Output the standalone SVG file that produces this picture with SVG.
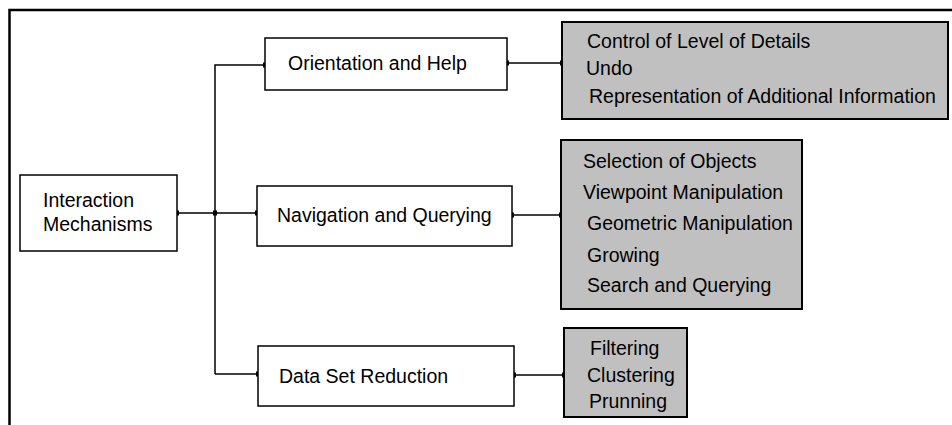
<svg xmlns="http://www.w3.org/2000/svg" width="952" height="425" viewBox="0 0 952 425">
<style>
text{font-family:"Liberation Sans",Arial,sans-serif;font-size:19.5px;fill:#000}
.box{fill:#fff;stroke:#000;stroke-width:1.5}
.gbox{fill:#c0c0c0;stroke:#000;stroke-width:2}
.ln{fill:none;stroke:#000;stroke-width:1.5}
.frame{fill:none;stroke:#000;stroke-width:2.5}
</style>
<defs>
<rect id="dot" x="-2" y="-2.5" width="4" height="5" fill="#000"/>
</defs>
<rect width="952" height="425" fill="#fff"/>
<path class="frame" d="M9.5,425 V10 H952"/>
<g id="connectors">
<path class="ln" d="M177,213 H257"/>
<path class="ln" d="M215,374 V65 H265"/>
<path class="ln" d="M215,374 H258"/>
<path class="ln" d="M507,63 H562"/>
<path class="ln" d="M512,215 H561"/>
<path class="ln" d="M514,375 H564"/>
<use href="#dot" x="177" y="213"/>
<use href="#dot" x="215" y="213"/>
<use href="#dot" x="257" y="213"/>
<use href="#dot" x="265" y="65"/>
<use href="#dot" x="258" y="374"/>
<use href="#dot" x="507" y="63"/>
<use href="#dot" x="562" y="63"/>
<use href="#dot" x="512" y="215"/>
<use href="#dot" x="561" y="215"/>
<use href="#dot" x="514" y="375"/>
<use href="#dot" x="564" y="375"/>
</g>
<g id="interaction">
<rect class="box" x="20" y="175" width="157" height="76"/>
<text x="43" y="207">Interaction</text>
<text x="43" y="231">Mechanisms</text>
</g>
<g id="orientation">
<rect class="box" x="265" y="38" width="242" height="52"/>
<text x="288" y="70">Orientation and Help</text>
</g>
<g id="navigation">
<rect class="box" x="257" y="186" width="255" height="60"/>
<text x="277" y="222">Navigation and Querying</text>
</g>
<g id="reduction">
<rect class="box" x="258" y="346" width="256" height="60"/>
<text x="279" y="383">Data Set Reduction</text>
</g>
<g id="orientation-items">
<rect class="gbox" x="562" y="22" width="386" height="97"/>
<text x="587" y="48">Control of Level of Details</text>
<text x="586" y="75">Undo</text>
<text x="589" y="103">Representation of Additional Information</text>
</g>
<g id="navigation-items">
<rect class="gbox" x="561" y="140" width="241" height="169"/>
<text x="583" y="168">Selection of Objects</text>
<text x="583" y="199">Viewpoint Manipulation</text>
<text x="587" y="230">Geometric Manipulation</text>
<text x="587" y="262">Growing</text>
<text x="587" y="292">Search and Querying</text>
</g>
<g id="reduction-items">
<rect class="gbox" x="564" y="328" width="123" height="89"/>
<text x="590" y="355">Filtering</text>
<text x="587" y="382">Clustering</text>
<text x="589" y="408">Prunning</text>
</g>
</svg>
